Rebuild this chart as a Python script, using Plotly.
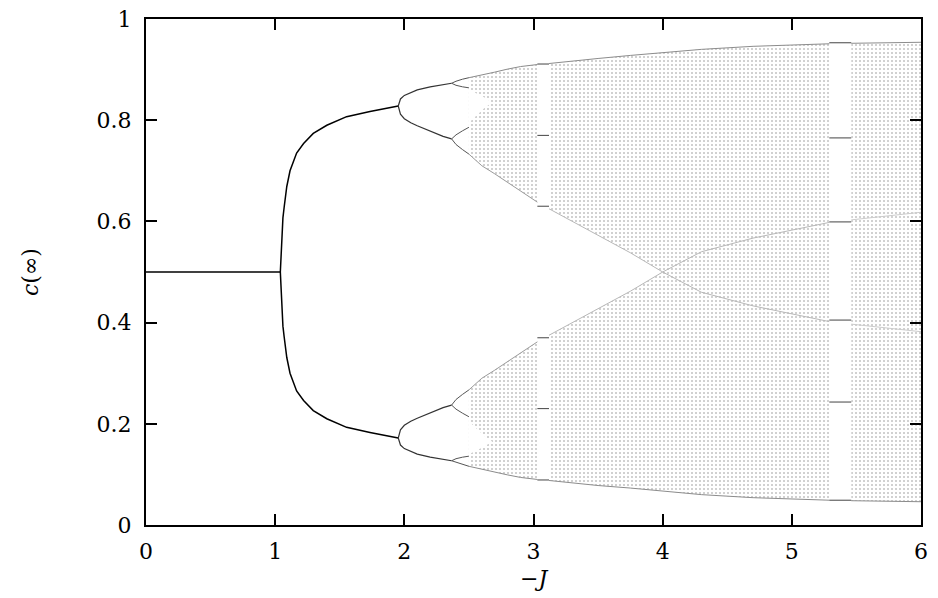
import plotly.graph_objects as go

# ---------------- data ----------------
# fixed point
J_fixed = [0.0, 1.04]
c_fixed = [0.5, 0.5]

# period-2 branches
J_p2 = [1.04, 1.05, 1.06, 1.07, 1.09, 1.115, 1.166, 1.22, 1.295, 1.40, 1.553, 1.734, 1.953]
c_p2_hi = [0.500, 0.573, 0.607, 0.629, 0.669, 0.700, 0.735, 0.754, 0.774, 0.790, 0.807, 0.817, 0.828]
c_p2_lo = [0.500, 0.427, 0.393, 0.371, 0.331, 0.300, 0.265, 0.246, 0.226, 0.210, 0.193, 0.183, 0.172]

# period-4 branches
J_p4 = [1.953, 1.97, 2.00, 2.05, 2.10, 2.20, 2.30, 2.366]
c_p4_1 = [0.828, 0.842, 0.849, 0.855, 0.860, 0.866, 0.871, 0.873]
c_p4_2 = [0.828, 0.812, 0.803, 0.795, 0.789, 0.779, 0.768, 0.763]
c_p4_3 = [0.172, 0.188, 0.197, 0.205, 0.211, 0.221, 0.232, 0.237]
c_p4_4 = [0.172, 0.158, 0.151, 0.145, 0.140, 0.134, 0.129, 0.127]

# period-8 branches
J_p8 = [2.366, 2.40, 2.45, 2.50]
c_p8 = [
    [0.873, 0.877, 0.881, 0.884],
    [0.873, 0.869, 0.866, 0.864],
    [0.763, 0.771, 0.779, 0.786],
    [0.763, 0.752, 0.742, 0.733],
    [0.237, 0.248, 0.258, 0.267],
    [0.237, 0.229, 0.221, 0.214],
    [0.127, 0.131, 0.134, 0.136],
    [0.127, 0.124, 0.120, 0.116],
]

# chaotic bands: outer envelopes and inner (crossing) band edges
J_band = [2.50, 2.60, 2.70, 2.80, 2.90, 3.03, 3.12, 3.30, 3.50, 3.75, 4.00,
          4.30, 4.70, 5.00, 5.29, 5.46, 5.75, 6.00]
c_band_bot = [0.116, 0.110, 0.104, 0.099, 0.094, 0.090, 0.088, 0.083, 0.078, 0.073, 0.067,
              0.060, 0.054, 0.051, 0.049, 0.048, 0.047, 0.046]
c_band_top = [0.884, 0.889, 0.895, 0.901, 0.906, 0.910, 0.912, 0.917, 0.922, 0.928, 0.934,
              0.940, 0.946, 0.949, 0.951, 0.952, 0.953, 0.954]
c_edge_lo = [0.267, 0.290, 0.306, 0.323, 0.340, 0.362, 0.375, 0.400, 0.428, 0.462, 0.500,
             0.540, 0.567, 0.582, 0.598, 0.603, 0.611, 0.618]
c_edge_hi = [0.733, 0.710, 0.694, 0.677, 0.660, 0.638, 0.625, 0.600, 0.572, 0.538, 0.500,
             0.460, 0.433, 0.418, 0.402, 0.397, 0.389, 0.382]

# sparse gaps between sub-bands just after the onset of chaos
J_gap = [2.50, 2.56, 2.62, 2.68]
c_gap_lo_bot = [0.140, 0.147, 0.155, 0.165]
c_gap_lo_top = [0.205, 0.190, 0.176, 0.165]
c_gap_hi_bot = [0.795, 0.810, 0.824, 0.835]
c_gap_hi_top = [0.860, 0.853, 0.845, 0.835]

# periodic windows
J_win1 = [3.03, 3.12]
c_win1 = [0.089, 0.230, 0.370, 0.630, 0.770, 0.911]
J_win2 = [5.29, 5.46]
c_win2 = [0.049, 0.243, 0.405, 0.599, 0.765, 0.953]

x_ticks = [0, 1, 2, 3, 4, 5, 6]
y_ticks = [0, 0.2, 0.4, 0.6, 0.8, 1]
y_ticklabels = ["0", "0.2", "0.4", "0.6", "0.8", "1"]
x_title = "−<i>J</i>"
y_title = "<i>c</i>(∞)"

# ---------------- figure ----------------
fig = go.Figure()

PATTERN = dict(shape=".", bgcolor="white", fgcolor="#868686", size=4, solidity=0.19)


def band(i0, i1, lo, hi):
    xs = J_band[i0:i1 + 1] + J_band[i0:i1 + 1][::-1]
    ys = lo[i0:i1 + 1] + hi[i0:i1 + 1][::-1]
    fig.add_trace(go.Scatter(x=xs, y=ys, mode="lines", fill="toself",
                             fillcolor="white", fillpattern=PATTERN,
                             line=dict(width=0), hoverinfo="skip", showlegend=False))


# two separate bands before merging (split by window 1)
band(0, 5, c_band_bot, c_edge_lo)
band(0, 5, c_edge_hi, c_band_top)
band(6, 10, c_band_bot, c_edge_lo)
band(6, 10, c_edge_hi, c_band_top)
# merged band (split by window 2)
band(10, 14, c_band_bot, c_band_top)
band(15, 17, c_band_bot, c_band_top)

# sparse gaps
for lo, hi in [(c_gap_lo_bot, c_gap_lo_top), (c_gap_hi_bot, c_gap_hi_top)]:
    fig.add_trace(go.Scatter(x=J_gap + J_gap[::-1], y=lo + hi[::-1], mode="lines",
                             fill="toself", fillcolor="white", line=dict(width=0),
                             hoverinfo="skip", showlegend=False))


def seg_line(xs, ys, color, width):
    fig.add_trace(go.Scatter(x=xs, y=ys, mode="lines", line=dict(color=color, width=width),
                             hoverinfo="skip", showlegend=False))


# envelopes and crossing edges (denser dots)
for arr in (c_band_bot, c_band_top):
    seg_line(J_band[0:6], arr[0:6], "#8c8c8c", 1)
    seg_line(J_band[6:15], arr[6:15], "#8c8c8c", 1)
    seg_line(J_band[15:], arr[15:], "#8c8c8c", 1)
for arr in (c_edge_lo, c_edge_hi):
    seg_line(J_band[0:6], arr[0:6], "#9a9a9a", 1)
    seg_line(J_band[6:15], arr[6:15], "#b8b8b8", 1)
    seg_line(J_band[15:], arr[15:], "#cccccc", 1)

# stable branches
seg_line(J_fixed, c_fixed, "black", 1.5)
seg_line(J_p2, c_p2_hi, "black", 1.5)
seg_line(J_p2, c_p2_lo, "black", 1.5)
for arr in (c_p4_1, c_p4_2, c_p4_3, c_p4_4):
    seg_line(J_p4, arr, "#333333", 1.2)
for arr in c_p8:
    seg_line(J_p8, arr, "#555555", 1)

# periodic windows
for c in c_win1:
    seg_line(J_win1, [c, c], "#444444", 1)
for c in c_win2:
    seg_line(J_win2, [c, c], "#444444", 1)

FONT = "DejaVu Serif, serif"
TICKFONT = dict(family=FONT, size=22, color="black")
fig.update_layout(
    width=938, height=598,
    margin=dict(l=146, r=17, t=19, b=73, autoexpand=False),
    paper_bgcolor="white", plot_bgcolor="white",
    font=dict(family=FONT, size=22, color="black"),
    xaxis=dict(range=[0, 6], tickvals=x_ticks, ticks="inside", ticklen=11, tickwidth=1.5,
               tickcolor="black", showline=True, linewidth=2, linecolor="black",
               mirror="ticks", showgrid=False, zeroline=False, tickfont=TICKFONT,
               ticklabelstandoff=6, automargin=False),
    yaxis=dict(range=[0, 1], tickvals=y_ticks, ticktext=y_ticklabels, ticks="inside",
               ticklen=11, tickwidth=1.5, tickcolor="black", showline=True, linewidth=2,
               linecolor="black", mirror="ticks", showgrid=False, zeroline=False,
               tickfont=TICKFONT, ticklabelstandoff=8, automargin=False),
    annotations=[
        dict(text=x_title, xref="paper", yref="paper", x=0.5, y=0, xanchor="center",
             yanchor="middle", yshift=-53, showarrow=False, font=dict(family=FONT, size=22)),
        dict(text=y_title, xref="paper", yref="paper", x=0, y=0.5, xanchor="center",
             yanchor="middle", xshift=-116, textangle=-90, showarrow=False,
             font=dict(family=FONT, size=22)),
    ],
)

fig.write_html("out.html")
